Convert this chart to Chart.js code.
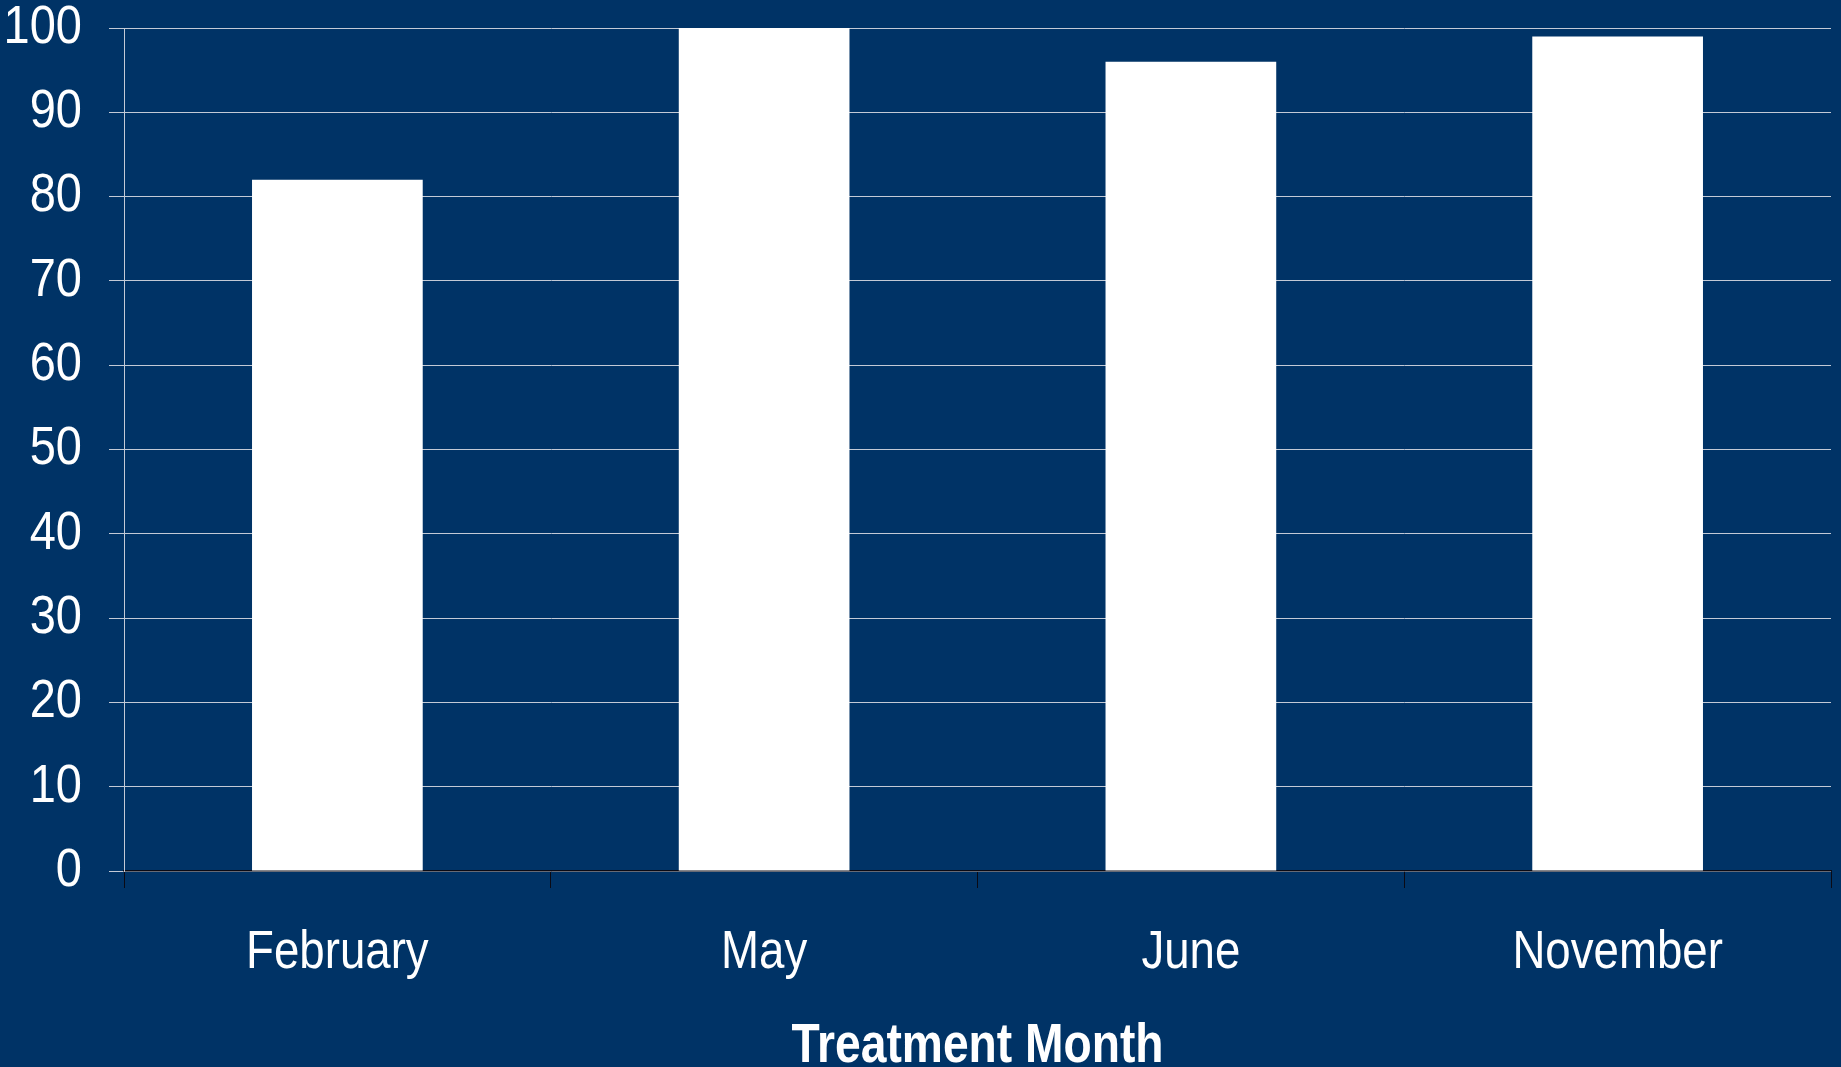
<!DOCTYPE html>
<html>
<head>
<meta charset="utf-8">
<script src="https://cdn.jsdelivr.net/npm/chart.js@4.4.1/dist/chart.umd.min.js"></script>
<style>
  html, body { margin: 0; padding: 0; background: #003366; overflow: hidden; }
  #c { display: block; }
</style>
</head>
<body>
<canvas id="c" width="1841" height="1067"></canvas>
<script>
const categories = ['February', 'May', 'June', 'November'];
const values = [82, 100, 96, 99];
const yTicks = [0, 10, 20, 30, 40, 50, 60, 70, 80, 90, 100];
const xTitle = 'Treatment Month';

const FONT = '"Liberation Sans", Arial, sans-serif';
const GRID = '#c3cad6';
const NARROW_Y = 0.87;
const NARROW_X = 0.845;
const NARROW_BOLD = 0.825;

// Draw the chart's text horizontally condensed (like Arial Narrow), keeping the anchor point fixed.
const narrowText = {
  id: 'narrowText',
  beforeInit(chart) {
    const ctx = chart.ctx;
    const orig = ctx.fillText.bind(ctx);
    ctx.fillText = function (text, x, y, maxWidth) {
      let f;
      if (/bold/.test(ctx.font)) f = NARROW_BOLD;
      else if (ctx.textAlign === 'right') f = NARROW_Y;
      else f = NARROW_X;
      ctx.save();
      ctx.translate(x, y);
      ctx.scale(f, 1);
      if (maxWidth !== undefined) orig(text, 0, 0, maxWidth / f);
      else orig(text, 0, 0);
      ctx.restore();
    };
  }
};

new Chart(document.getElementById('c'), {
  type: 'bar',
  plugins: [narrowText],
  data: {
    labels: categories,
    datasets: [{
      data: values,
      backgroundColor: '#ffffff',
      borderWidth: 0,
      barPercentage: 0.4,
      categoryPercentage: 1.0
    }]
  },
  options: {
    responsive: false,
    animation: false,
    events: [],
    layout: { padding: { top: 28, right: 10, left: 0, bottom: 0 } },
    plugins: { legend: { display: false }, tooltip: { enabled: false } },
    scales: {
      x: {
        offset: true,
        grid: {
          offset: true,
          display: true,
          drawOnChartArea: true,
          color: (ctx) => ctx.index === categories.length ? GRID : 'rgba(0,0,0,0)',
          tickColor: '#0a0a14',
          tickLength: 17,
          lineWidth: 1
        },
        border: { display: true, color: '#0a0a14', width: 1.5 },
        ticks: {
          color: '#ffffff',
          font: { family: FONT, size: 54 },
          padding: 33,
          maxRotation: 0,
          autoSkip: false
        },
        title: {
          display: true,
          text: xTitle,
          color: '#ffffff',
          font: { family: FONT, size: 56, weight: 'bold', lineHeight: 0.5 },
          padding: { top: 0, bottom: 6 }
        },
        afterFit: (scale) => { scale.height = 196; }
      },
      y: {
        min: 0,
        max: 100,
        afterBuildTicks: (scale) => { scale.ticks = yTicks.map(v => ({ value: v })); },
        grid: {
          color: GRID,
          tickColor: GRID,
          tickLength: 15,
          lineWidth: 1
        },
        border: { display: true, color: GRID, width: 1 },
        ticks: {
          color: '#ffffff',
          font: { family: FONT, size: 54, lineHeight: 0.01 },
          padding: 27
        },
        afterFit: (scale) => { scale.width = 124; }
      }
    }
  }
});
</script>
</body>
</html>
